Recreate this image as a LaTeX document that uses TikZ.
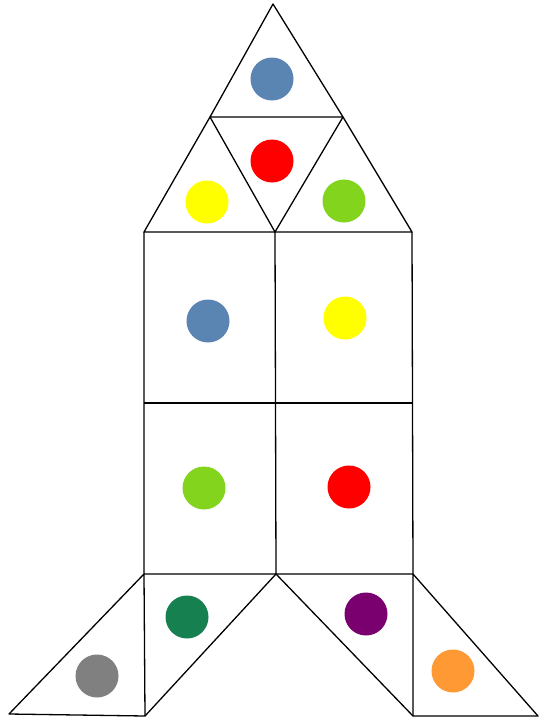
\documentclass[tikz,border=0pt]{standalone}
\begin{document}
\begin{tikzpicture}[x=1pt,y=-1pt,
  edge/.style={draw=black,line width=1.3pt,line join=round},
  dot/.style={circle,minimum size=43pt,inner sep=0pt,draw=none}]
\definecolor{cblue}{HTML}{5A84B1}
\definecolor{cred}{HTML}{FF0000}
\definecolor{cyellow}{HTML}{FFFF00}
\definecolor{cgreen}{HTML}{82D41C}
\definecolor{cdgreen}{HTML}{178050}
\definecolor{cgray}{HTML}{808080}
\definecolor{cpurple}{HTML}{7A0070}
\definecolor{corange}{HTML}{FF9933}
\useasboundingbox[fill=white] (0,0) rectangle (540,720);
% vertices
\coordinate (apex) at (273,4);
\coordinate (tl) at (210,117);
\coordinate (tr) at (343,117);
\coordinate (b1) at (144,232);
\coordinate (b2) at (275,232);
\coordinate (b3) at (412,232);
\coordinate (m1) at (144,403);
\coordinate (m2) at (275,403);
\coordinate (m3) at (412,403);
\coordinate (l1) at (144,574);
\coordinate (l2) at (276,574);
\coordinate (l3) at (413,574);
\coordinate (fl) at (9,714);
\coordinate (fb) at (145,716);
\coordinate (rb) at (413,716);
\coordinate (fr) at (538,716);
% top triangles
\draw[edge] (tl) -- (apex) -- (tr) -- cycle;
\draw[edge] (tl) -- (b1) -- (b3) -- (tr);
\draw[edge] (tl) -- (b2) -- (tr);
% body
\draw[edge] (b1) -- (l1) -- (l3) -- (b3);
\draw[edge] (b2) -- (l2);
\draw[edge] (m1) -- (m3);
% fins
\draw[edge] (l1) -- (fl) -- (fb) -- (l1);
\draw[edge] (fb) -- (l2) -- (rb);
\draw[edge] (l3) -- (rb) -- (fr) -- (l3);
% dots
\node[dot,fill=cblue] (d1) at (272,79) {};
\node[dot,fill=cred] (d2) at (272,161) {};
\node[dot,fill=cyellow] (d3) at (207,202) {};
\node[dot,fill=cgreen] (d4) at (344,201) {};
\node[dot,fill=cblue] (d5) at (208,321) {};
\node[dot,fill=cyellow] (d6) at (345,318) {};
\node[dot,fill=cgreen] (d7) at (204,488) {};
\node[dot,fill=cred] (d8) at (349,487) {};
\node[dot,fill=cdgreen] (d9) at (187,617) {};
\node[dot,fill=cgray] (d10) at (97,676) {};
\node[dot,fill=cpurple] (d11) at (366,614) {};
\node[dot,fill=corange] (d12) at (453,671) {};
\end{tikzpicture}
\end{document}
